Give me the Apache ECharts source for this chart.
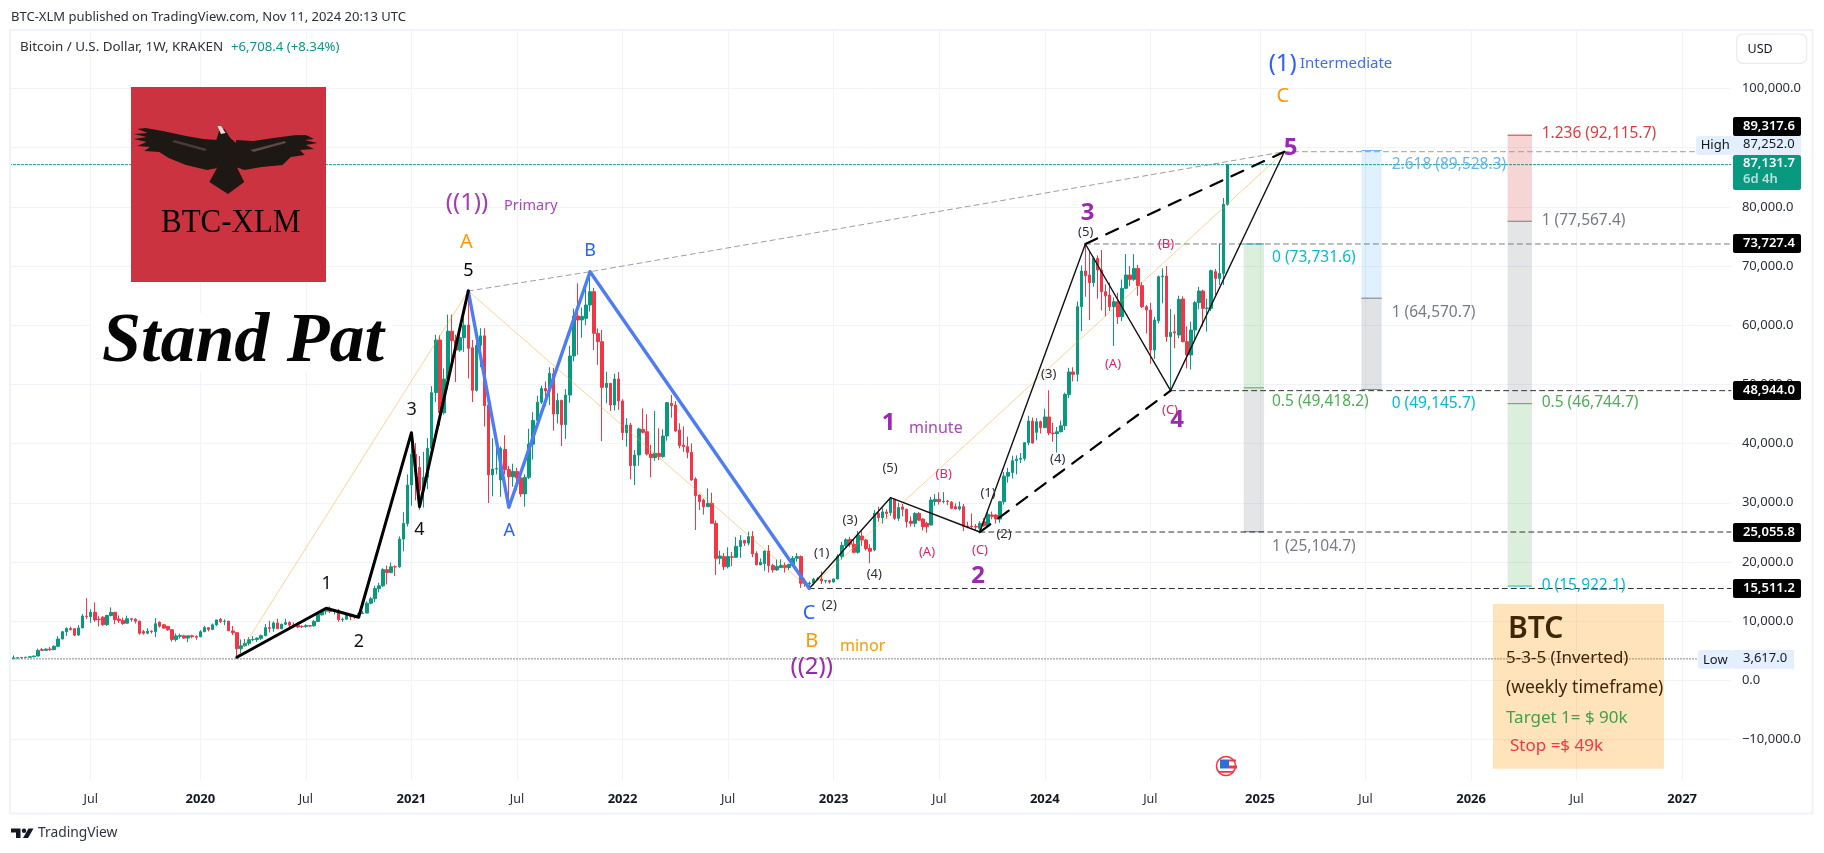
<!DOCTYPE html>
<html>
<head>
<meta charset="utf-8">
<title>BTC weekly</title>
<style>
  html, body { margin: 0; padding: 0; background: #fff; }
  #chart { width: 1824px; height: 853px; }
</style>
<script src="https://cdn.jsdelivr.net/npm/echarts@6/dist/echarts.min.js"></script>
</head>
<body>
<div id="chart"></div>
<script>
// weekly candles, [open, close, low, high]
const ohlc2019 = [
  [3670,3800,3640,4200],[3800,3820,3660,3900],[3830,3860,3690,3930],[3860,3900,3780,3960],[3900,3980,3860,4030],[3990,4100,3900,4150],
  [4100,5050,4090,5350],[5180,5060,4950,5470],[5060,5280,5030,5360],[5280,5160,4980,5640],[5170,5750,5160,5900],[5750,6970,5600,7450],
  [6970,8200,6950,8350],[8200,8750,7500,8950],[8750,8550,8450,9080],[8730,7620,7450,8800],[7650,8850,7500,9330],[8850,10850,8830,11200],
  [10850,10760,10350,13880],[10750,11500,9700,12000],[11500,10200,9900,13150],[10320,10250,9100,10850],[10670,9400,9200,10850],[9400,10950,9200,11080],
  [10950,11480,10800,12320],[11500,10250,9470,11550],[10350,10120,9700,10950],[10120,9600,9350,10600],[9650,10400,9560,10920],[10400,10310,9900,10480],
  [10310,9990,9600,10500],[9990,7950,7700,10100],[8240,7960,7700,8500],[7960,8300,7780,8800],[8300,8220,7900,8450],[8220,9550,7300,10500],
  [9830,9150,8900,9950],[9380,8820,8700,9500],[9100,8540,8350,9200],[8540,6900,6550,8620],[6900,7500,6530,7900],[7450,7550,7050,7880],
  [7530,7130,7000,7700],[7130,7520,6430,7540],[7520,7400,7100,7700],[7400,7260,6850,7600]
];
const ohlc2020 = [
  [7350,8200,7300,8480],[8200,8900,8170,9200],[8900,8600,8250,8920],[8600,9370,8470,9590],[9370,10200,9150,10180],[10300,9930,9700,10520],
  [9930,9980,9300,10300],[10000,8370,8350,10030],[8350,8050,7630,9180],[8050,5350,3850,8160],[5350,5830,4550,6900],[5850,6250,5670,6980],
  [6250,6870,5860,7290],[6860,6900,6600,7460],[6900,7150,6500,7200],[7100,7540,6810,7740],[7540,8900,7450,9500],[8900,8780,8100,10070],
  [8780,9700,8200,9950],[9700,8720,8700,10400],[8720,9450,8620,9590],[9470,9750,9350,10390],[9750,9330,8900,10000],[9330,9300,8900,9790],
  [9300,9000,8800,9800],[9120,9070,8850,9300],[9070,9240,8900,9470],[9240,9170,9000,9350],[9200,9950,9050,10180],[9930,11200,9900,11400],
  [11050,11680,10950,11900],[11680,11850,11150,12100],[11850,11650,11370,12480],[11650,11700,11120,11800],[11700,10260,9880,12050],[10260,10330,9880,10600],
  [10330,11080,10230,11180],[11080,10740,10140,11000],[10740,10680,10370,10950],[10680,11300,10520,11500],[11300,11360,11180,11700],[11360,13030,11340,13350],
  [13030,13770,12850,14100],[13770,15500,13200,15970],[15500,15970,14850,16480],[15970,18700,15800,18950],[18700,18200,16200,19400],[18200,19180,18100,19900],
  [19180,19170,17600,19420],[19170,23860,19000,24300],[23860,26500,21800,28400],[26500,33000,26000,34800]
];
const ohlc2021 = [
  [33000,38200,29500,41950],[38200,36000,30400,40100],[36000,32100,28800,37900],[32100,34300,29200,38600],[34300,39200,32300,40900],[39200,48600,37400,49700],
  [48600,57500,47000,58400],[57500,45200,43000,58300],[45200,50900,44900,52700],[50900,59000,49300,61800],[59000,57400,53200,61800],[57400,55800,50400,58400],
  [55800,57900,55500,60200],[57900,60000,55500,61200],[60050,56100,51000,65300],[56200,49000,47000,57500],[49000,56600,48800,58400],[56600,58200,52900,59500],
  [58200,46400,42900,59500],[46530,34700,29960,46800],[34700,35700,31100,40900],[35700,35800,34800,39400],[33850,39200,31000,39500],[39000,35600,34800,41400],
  [35600,34400,29100,36200],[34400,35300,32700,36600],[35300,34200,32100,35900],[34200,31500,31000,34700],[31500,34300,29340,34800],[34300,39900,34000,42500],
  [39900,43900,37300,45300],[43900,47000,43700,48100],[47000,49300,46700,49800],[49300,48900,46300,50500],[48900,51880,46500,52900],[51800,45000,42180,52800],
  [45000,47300,43400,48500],[47300,43200,39600,47400],[43200,48200,40800,49200],[48200,54800,46900,56500],[54800,61570,53900,62800],[61560,60880,55000,67080],
  [60900,61500,57900,63000],[61160,63420,60000,66500],[63420,65670,62300,69000],[65670,58630,55800,66300],[58630,57220,53300,59470],[57220,49500,40400,59200],
  [49500,50180,46800,52150],[50180,46520,45500,50200],[46520,50910,45600,51800],[50910,47200,45700,52100]
];
const ohlc2022 = [
  [47200,41850,40600,47500],[41850,43140,39500,44300],[43140,36270,33960,43500],[36270,38070,33000,38900],[38070,42470,36250,42700],[42400,41900,41700,45950],
  [42000,38240,38000,44950],[38240,37620,34300,39800],[37620,38350,37100,45500],[38350,37800,37200,42580],[37800,41280,37600,42400],[41280,46920,40500,47000],
  [46800,46400,44380,48210],[46520,42130,42000,47200],[42300,39650,39200,43420],[39750,39480,38600,42900],[39480,38520,37510,41170],[38520,33850,33700,40040],
  [34020,31200,25400,34300],[31300,30190,28780,31400],[30470,29340,28000,30700],[29340,29900,29300,32440],[29900,26530,26500,31700],[26530,20610,17800,27000],
  [20610,21000,19600,21900],[20900,19200,18640,21500],[19200,20900,18900,22470],[20870,20780,19300,21700],[20780,22630,20700,24200],[22600,23640,20700,24550],
  [23640,23180,22700,23700],[23180,24280,22800,25120],[24300,21350,20800,25200],[21450,19500,19500,21800],[19500,19950,19500,20600],[19700,21850,18500,21900],
  [21850,19400,18200,22870],[19400,18650,18200,19700],[18650,19210,18500,20400],[19050,19400,19000,20450],[19440,19060,18200,19900],[19060,19570,18650,19700],
  [19400,20620,19250,21000],[20620,20900,20050,21500],[20900,16400,15600,21100],[16400,16300,15800,17200],[16280,16430,15511,16700],[16430,17090,16040,17300],
  [17090,17100,16870,17430],[17100,16780,16270,18400],[16780,16840,16400,16950],[16840,16610,16330,16960]
];
const ohlc2023 = [
  [16610,17120,16500,17170],[17120,20900,17100,21300],[20900,22800,20400,23400],[22750,23750,22300,24000],[23800,23000,22500,24250],[23000,21620,21450,23900],
  [21620,24550,21400,25250],[24380,23700,22700,25200],[23700,22260,21950,23900],[22300,21800,19760,23000],[22020,28210,21800,28800],[28210,27480,26800,29340],
  [27480,28450,26500,29200],[28450,28200,27300,28900],[28330,30750,27800,31000],[30580,27370,27100,30600],[27370,29200,26950,30000],[29300,28900,27700,29800],
  [28900,26800,25800,29000],[26900,26520,26000,27700],[26520,28200,25900,28400],[28200,27060,26900,28450],[27240,25950,25300,27400],[26520,25960,24950,26800],
  [26240,30465,26200,31000],[30200,30580,29500,31450],[30580,30200,29700,31750],[30200,30250,29900,31800],[30300,30200,29600,30450],[30070,29060,28900,30300],
  [29340,28950,28900,29900],[28950,29340,28700,30200],[29340,25960,25200,29800],[26070,25950,25700,26800],[26060,25980,25700,28200],[25980,25900,25300,26400],
  [25680,26520,24900,26900],[26800,26130,25950,27400],[26130,28040,26000,28600],[27930,27700,27200,28500],[27930,27250,26500,28100],[27250,30180,26600,30300],
  [30180,34500,29700,35200],[34500,35100,33400,35900],[35100,37100,34100,37950],[37100,37360,34800,38000],[37360,37500,36700,38400],[37500,40150,37100,40250],
  [40150,43800,39700,44700],[43800,40100,40000,44400],[41900,43700,40550,44300],[43700,42700,41700,43900]
];
const ohlc2024 = [
  [42700,44500,42600,45900],[44500,41800,41400,49000],[41800,41700,40300,43500],[41700,42000,38500,42800],[42000,43000,41900,43900],[43000,48300,42300,48600],
  [48300,52100,47700,52800],[52100,51700,50500,52900],[51700,63130,50500,64000],[63130,69160,59000,70100],[69160,68370,64820,73727],[68480,67190,60880,72420],
  [67190,71300,66500,71600],[71300,69330,64500,71800],[69330,65670,62500,72700],[65670,64960,61500,66900],[65100,63130,62400,67200],[63130,63970,56500,64700],
  [63970,61440,60200,65500],[61440,66230,60700,67700],[66230,68480,66700,72030],[68480,67750,66600,70000],[67750,69600,67500,72000],[69600,66680,65000,70200],
  [66680,63130,62900,67300],[63130,62570,58600,63400],[62570,55810,53500,63800],[55810,60880,54300,61400],[60760,68200,60300,68400],[68200,68310,63700,69600],
  [68310,58060,57200,70000],[58060,58790,48944,62740],[58900,58700,56100,61800],[58340,64370,57800,65000],[64430,57220,57100,64900],[57220,54970,52710,59800],
  [54970,59190,52500,60600],[59190,63810,57500,64100],[63810,65780,62700,66500],[65780,62850,59800,66000],[62850,62900,58900,64500],[62850,69220,62400,69400],
  [69050,67920,65100,69500],[67920,68760,66800,73830],[68760,80423,66800,81500],[80423.3,87131.7,80200,87252]
];

// time axis
const firstWeek = '2019-02-11';
const firstCandleWeek = '2019-02-18';
const lastWeek = '2027-03-29';
const tickLabels = {
  '2019-07-01': 'Jul', '2020-01-06': '2020', '2020-07-06': 'Jul', '2021-01-04': '2021',
  '2021-07-05': 'Jul', '2022-01-03': '2022', '2022-07-04': 'Jul', '2023-01-02': '2023',
  '2023-07-03': 'Jul', '2024-01-01': '2024', '2024-07-01': 'Jul', '2025-01-06': '2025',
  '2025-07-07': 'Jul', '2026-01-05': '2026', '2026-07-06': 'Jul', '2027-01-04': '2027'
};
const priceTicks = [-10000, 0, 10000, 20000, 30000, 40000, 50000, 60000, 70000, 80000, 90000, 100000];

// elliott wave drawings: [week, price]
const waveImpulse = [['2020-03-09',3887],['2020-08-10',12168],['2020-10-05',10650],['2021-01-04',41844],['2021-01-18',29340],['2021-04-12',65780]];
const waveCorrection = [['2021-04-12',65780],['2021-06-21',29232],['2021-11-08',69040],['2022-11-21',15511.2]];
const waveMinute = [['2022-11-21',15511.2],['2023-04-10',30860],['2023-09-11',25055.8],['2024-03-11',73727.4],['2024-08-05',48944],['2025-02-17',89317.6]];
const waveAbc = [['2020-03-09',3887],['2021-04-12',65780],['2022-11-21',15511.2],['2025-02-17',89317.6]];
const topTrend = [['2021-04-12',65780],['2021-11-08',69040],['2025-02-17',89317.6],[lastWeek,89317.6]];
const channelLower = [['2023-09-11',25055.8],['2024-08-05',48944]];
const channelUpper = [['2024-03-11',73727.4],['2025-02-17',89317.6]];
const levelStart73727 = [['2024-03-11',73727.4],[lastWeek,73727.4]];
const level48944 = [['2024-08-05',48944],[lastWeek,48944]];
const level25055 = [['2023-09-11',25055.8],[lastWeek,25055.8]];
const level15511 = [['2022-11-21',15511.2],[lastWeek,15511.2]];
const lastPriceLine = [[firstWeek,87131.7],[lastWeek,87131.7]];
const lowLine = [[firstWeek,3617],[lastWeek,3617]];

// fib boxes, levels top to bottom
const fibLeftLevels = [73731.6, 49418.2, 25104.7];
const fibMidLevels = [89528.3, 64570.7, 49145.7];
const fibRightLevels = [92115.7, 77567.4, 46744.7, 15922.1];

const uiFont = '"Noto Sans", sans-serif';
const cGreen = '#089981', cRed = '#f23645', cPurple = '#9c27b0', cBlue = '#2962ff', cOrange = '#ff9800', cPink = '#e91e63', cWave = '#2a2e39';

// [text, x, y, size, color, weight]
const waveLabels = [
  ['((1))',467,203,24,'#a43bb8'], ['A',466.5,242,20,cOrange], ['5',468.4,271,18,'#000'], ['B',590,250.7,18,cBlue],
  ['3',411.7,410,18,'#111'], ['4',419.3,530,18,'#111'], ['1',326.7,584.3,18,'#111'], ['2',359,641.7,18,'#111'],
  ['A',509.3,531,18,cBlue], ['C',809,613.3,20,cBlue], ['B',811.7,641.7,20,cOrange], ['((2))',811.7,666.7,24,cPurple],
  ['1',888.7,423.3,24,cPurple,'bold'], ['2',978,575.7,24,cPurple,'bold'], ['3',1087.7,213,24,cPurple,'bold'], ['4',1177,420,24,cPurple,'bold'], ['5',1290.7,148,24,cPurple,'bold'],
  ['(5)',890,468,13,cWave], ['(3)',850,520,13,cWave], ['(1)',821.7,553,13,cWave], ['(4)',874.3,574,13,cWave], ['(2)',829.3,605,13,cWave],
  ['(1)',988,493,13,cWave], ['(2)',1004,534,13,cWave], ['(4)',1057.7,459,13,cWave], ['(3)',1048.7,374,13,cWave], ['(5)',1085.7,232,13,cWave],
  ['(B)',943.7,474,13,cPink], ['(A)',927,552,13,cPink], ['(C)',980,550,13,cPink], ['(B)',1166,244,13,cPink], ['(A)',1113,364,13,cPink], ['(C)',1170,410,13,cPink],
  ['(1)',1282.7,64,24,cBlue], ['C',1282.7,96,20,cOrange]
];
// [text, x, y, size, color]
const sideLabels = [
  ['Primary',504,206,14.5,'#ab47bc'], ['minor',840,646.7,16,cOrange], ['minute',909,428,16,'#ab47bc'], ['Intermediate',1300,63.3,15,'#3d6ff5'],
  ['0 (73,731.6)',1272,258,15.5,'#00bcd4'], ['0.5 (49,418.2)',1272,402,15.5,'#4caf50'], ['1 (25,104.7)',1272,547,15.5,'#787b86'],
  ['2.618 (89,528.3)',1391.7,165,15.5,'#64b5f6'], ['1 (64,570.7)',1391.7,312.7,15.5,'#787b86'], ['0 (49,145.7)',1391.7,404,15.5,'#00bcd4'],
  ['1.236 (92,115.7)',1541.7,133.7,15.5,'#e03a3e'], ['1 (77,567.4)',1541.7,221,15.5,'#787b86'], ['0.5 (46,744.7)',1541.7,403,15.5,'#4caf50'], ['0 (15,922.1)',1541.7,585.7,15.5,'#00bcd4']
];
// [text, top, height, background]
const priceBadges = [
  ['89,317.6',117,19,'#000'], ['73,727.4',234,19,'#000'], ['48,944.0',381,19,'#000'], ['25,055.8',523,19,'#000'], ['15,511.2',579,19,'#000']
];

const weeks = [];
for (let d = new Date(firstWeek + 'T00:00:00Z'); d <= new Date(lastWeek + 'T00:00:00Z'); d.setUTCDate(d.getUTCDate() + 7)) {
  weeks.push(d.toISOString().slice(0, 10));
}
const candleStart = weeks.indexOf(firstCandleWeek);
const candles = [].concat(ohlc2019, ohlc2020, ohlc2021, ohlc2022, ohlc2023, ohlc2024).map((r, k) => [candleStart + k].concat(r));

function lineSeries(points, color, width, dash, z) {
  return {
    type: 'line', data: points, symbol: 'none', silent: true, animation: false, z: z,
    lineStyle: { color: color, width: width, type: dash || 'solid', join: 'round', cap: 'round' }
  };
}

function fibSeries(levels, fromWeek, toWeek, fills, strokes) {
  const a = weeks.indexOf(fromWeek), b = weeks.indexOf(toWeek);
  return {
    type: 'custom', silent: true, animation: false, z: 3,
    data: levels.map((p, n) => [a, b, p, n + 1 < levels.length ? levels[n + 1] : p]),
    encode: { x: [0, 1], y: [2, 3] },
    renderItem: (params, api) => {
      const p1 = api.coord([api.value(0), api.value(2)]);
      const p2 = api.coord([api.value(1), api.value(3)]);
      const n = params.dataIndex;
      const kids = [];
      if (fills[n]) {
        kids.push({ type: 'rect', shape: { x: p1[0], y: p1[1], width: p2[0] - p1[0], height: p2[1] - p1[1] }, style: { fill: fills[n] } });
      }
      kids.push({ type: 'line', shape: { x1: p1[0], y1: p1[1], x2: p2[0], y2: p1[1] }, style: { stroke: strokes[n], lineWidth: 1 } });
      return { type: 'group', children: kids };
    }
  };
}

function txt(text, x, y, size, color, opt) {
  return Object.assign({
    type: 'text', z: 60, silent: true, x: x, y: y,
    style: Object.assign({
      text: text, fill: color, font: (opt && opt.weight ? opt.weight + ' ' : '') + size + 'px ' + uiFont,
      textAlign: 'left', textVerticalAlign: 'middle'
    }, opt && opt.style)
  }, opt && opt.scaleY ? { scaleY: opt.scaleY } : null);
}
function box(x, y, w, h, fill, r, z) {
  return { type: 'rect', z: z || 55, silent: true, shape: { x: x, y: y, width: w, height: h, r: r || 0 }, style: { fill: fill } };
}
function poly(points, fill) {
  return { type: 'polygon', z: 57, silent: true, shape: { points: points }, style: { fill: fill } };
}
// logo outline was read at a narrower x scale
function eaglePart(points, fill) {
  return poly(points.map(p => [p[0] * 1.163, p[1]]), fill);
}

const eagle = [
  eaglePart([[187,140],[175,139],[160,136],[140,131],[125,128],[118,129],[127,133],[115,134],[126,137],[115,139],[126,142],[118,146],[129,147],[124,151],[137,152],[145,158],[160,165],[178,170],[187,168]], '#1e1815'),
  eaglePart([[203,140],[218,141],[235,138],[255,135],[263,135],[270,139],[262,140],[273,143],[263,145],[270,149],[258,150],[262,155],[250,157],[243,165],[225,167],[210,170],[203,167]], '#1e1815'),
  eaglePart([[186,140],[189,129],[193,129],[198,138],[205,145],[206,165],[204,168],[210,182],[196,194],[180,182],[187,167],[184,150]], '#1e1815'),
  eaglePart([[187,126],[190,126],[194,133],[190,134]], '#e8e0d8'),
  eaglePart([[150,140],[178,149],[176,151],[148,142]], '#4a3b35'),
  eaglePart([[215,150],[245,141],[246,143],[218,152]], '#5a4a42')
];

const tvLogo = [
  poly([[11,828.5],[20.5,828.5],[20.5,838],[16,838],[16,832.5],[11,832.5]], '#131722'),
  { type: 'circle', z: 57, silent: true, shape: { cx: 24, cy: 830.7, r: 2.2 }, style: { fill: '#131722' } },
  poly([[28.5,828.5],[33.5,828.5],[28,838],[23,838]], '#131722')
];

const flag = [
  { type: 'circle', z: 57, silent: true, shape: { cx: 1226, cy: 766, r: 9.5 }, style: { fill: '#fff', stroke: cRed, lineWidth: 1.6 } },
  box(1220, 759.5, 9, 9, '#2d6fd6', 0, 58),
  box(1229, 759.5, 7, 2, cRed, 0, 58),
  box(1229, 765.5, 8, 3, cRed, 0, 58),
  box(1219, 771, 14, 1.8, cRed, 0, 58)
];

const frame = { type: 'rect', z: 50, silent: true, shape: { x: 10, y: 30, width: 1802.5, height: 783.5 }, style: { fill: 'none', stroke: '#f0f3fa', lineWidth: 2 } };

const graphics = [
  frame,
  // header
  txt('BTC-XLM published on TradingView.com, Nov 11, 2024 20:13 UTC', 11, 17, 13, '#2a2e39'),
  txt('Bitcoin / U.S. Dollar, 1W, KRAKEN', 20, 47, 13.4, '#2a2e39'),
  txt('+6,708.4 (+8.34%)', 231, 47, 13.2, cGreen),
  // logo picture
  box(131, 87, 195, 195, '#cc3341', 0, 56)
].concat(eagle, [
  txt('BTC-XLM', 230.7, 222.7, 31, '#000', { scaleY: 1.12, style: { font: '31px "Liberation Serif", serif', textAlign: 'center' } }),
  // note image
  box(91, 313, 301, 59, '#fff', 0, 56),
  txt('Stand Pat', 102, 343, 70, '#050505', { style: { font: 'italic bold 70px "Liberation Serif", serif', textAlign: 'left' } }),
  // right scale
  box(1736.7, 34, 70, 29.3, '#fff', 6),
  { type: 'rect', z: 56, silent: true, shape: { x: 1736.7, y: 34, width: 70, height: 29.3, r: 6 }, style: { fill: 'none', stroke: '#e8eaf0', lineWidth: 1.2 } },
  txt('USD', 1747.5, 49, 12.5, '#131722'),
  box(1696, 136, 37, 19, '#e3effd', 3),
  box(1733, 136, 68, 19, '#e3effd'),
  txt('High', 1700.7, 145, 13, '#131722'),
  txt('87,252.0', 1743, 144.5, 13, '#131722'),
  box(1733, 155, 68, 35, cGreen, 2),
  txt('87,131.7', 1743, 163, 13, '#fff', { weight: 600 }),
  txt('6d 4h', 1743, 179, 13, 'rgba(255,255,255,.7)', { weight: 600 }),
  box(1698, 650, 35, 18.7, '#e3effd', 3),
  box(1733, 650, 61, 18.7, '#e3effd'),
  txt('Low', 1703, 660, 13, '#131722'),
  txt('3,617.0', 1743, 658.5, 13, '#131722')
], priceBadges.map(b => box(1733, b[1], 68, b[2], b[3], 2)),
  priceBadges.map(b => txt(b[0], 1743, b[1] + 8.8, 13, '#fff', { weight: 600 })),
  waveLabels.map(l => txt(l[0], l[1], l[2], l[3], l[4], { weight: l[5], style: { textAlign: 'center' } })),
  sideLabels.map(l => txt(l[0], l[1], l[2], l[3], l[4])),
  [
    // trade note
    box(1493, 604, 171, 164.7, 'rgba(255,152,0,.27)', 0, 54),
    txt('BTC', 1508, 629, 30, '#3e2708', { weight: 600 }),
    txt('5-3-5 (Inverted)', 1506, 657.7, 17, '#3e2708'),
    txt('(weekly timeframe)', 1506, 688, 17.5, '#3e2708'),
    txt('Target 1= $ 90k', 1506, 718, 17, '#43a047'),
    txt('Stop =$ 49k', 1510, 746, 17, cRed),
    // footer
    txt('TradingView', 38, 833, 13.8, '#2f3241')
  ],
  tvLogo, flag);

const myChart = echarts.init(document.getElementById('chart'));
const option = {
  animation: false,
  backgroundColor: '#fff',
  grid: { left: 9.5, top: 31, width: 1721.4, height: 750 },
  xAxis: {
    type: 'category',
    data: weeks,
    boundaryGap: false,
    axisLine: { show: false },
    axisTick: { show: false },
    splitLine: {
      show: true,
      interval: (i) => tickLabels[weeks[i]] !== undefined,
      lineStyle: { color: '#f0f3fa', width: 1 }
    },
    axisLabel: {
      interval: (i) => tickLabels[weeks[i]] !== undefined,
      margin: 12,
      formatter: (v) => {
        const t = tickLabels[v];
        return t === 'Jul' ? '{m|' + t + '}' : '{y|' + t + '}';
      },
      rich: {
        m: { fontFamily: uiFont, fontSize: 12.5, color: '#2a2e39' },
        y: { fontFamily: uiFont, fontSize: 13, fontWeight: 'bold', color: '#131722' }
      }
    }
  },
  yAxis: {
    type: 'value',
    position: 'right',
    min: -17016,
    max: 109716,
    axisLine: { show: false },
    axisTick: { show: false, customValues: priceTicks },
    splitLine: { show: true, lineStyle: { color: '#f0f3fa', width: 1 } },
    axisLabel: {
      customValues: priceTicks,
      margin: 11,
      fontFamily: uiFont,
      fontSize: 13,
      color: '#2a2e39',
      formatter: (v) => (v < 0 ? '\u2212' : '') + Math.abs(v).toLocaleString('en-US', { minimumFractionDigits: 1, maximumFractionDigits: 1 })
    }
  },
  series: [
    lineSeries(lastPriceLine, cGreen, 1, [2, 2], 1),
    lineSeries(lowLine, '#787b86', 1, [1, 2], 1),
    fibSeries(fibLeftLevels, '2024-12-09', '2025-01-13', ['rgba(76,175,80,.2)', 'rgba(120,123,134,.2)', null], ['#00bcd4', '#4caf50', '#787b86']),
    fibSeries(fibMidLevels, '2025-06-30', '2025-08-04', ['rgba(33,150,243,.14)', 'rgba(120,123,134,.22)', null], ['#64b5f6', '#787b86', '#00bcd4']),
    fibSeries(fibRightLevels, '2026-03-09', '2026-04-20', ['rgba(211,47,47,.2)', 'rgba(120,123,134,.2)', 'rgba(76,175,80,.2)', null], ['#d32f2f', '#787b86', '#4caf50', '#00bcd4']),
    {
      type: 'candlestick',
      data: candles,
      encode: { x: 0, y: [1, 2, 3, 4] },
      barWidth: 3,
      silent: true,
      animation: false,
      z: 4,
      itemStyle: { color: cGreen, color0: cRed, borderColor: cGreen, borderColor0: cRed, borderColorDoji: cGreen, borderWidth: 1 }
    },
    lineSeries(waveAbc, 'rgba(255,152,0,.42)', 1, null, 5),
    lineSeries(topTrend, '#9e9e9e', 1, [5, 4], 5),
    lineSeries(levelStart73727, '#787b86', 1, [5, 4], 5),
    lineSeries(level48944, '#333', 1, [5, 4], 5),
    lineSeries(level25055, '#333', 1, [5, 4], 5),
    lineSeries(level15511, '#333', 1, [5, 4], 5),
    lineSeries(channelLower, '#000', 2.2, [13, 10], 6),
    lineSeries(channelUpper, '#000', 2.2, [13, 10], 6),
    lineSeries(waveMinute, '#111', 1.4, null, 6),
    lineSeries(waveCorrection, '#4d7cf5', 3.4, null, 7),
    lineSeries(waveImpulse, '#000', 3, null, 8)
  ],
  graphic: { elements: graphics }
};
myChart.setOption(option);

window.addEventListener('resize', () => {
  myChart.resize();
});
</script>
</body>
</html>
